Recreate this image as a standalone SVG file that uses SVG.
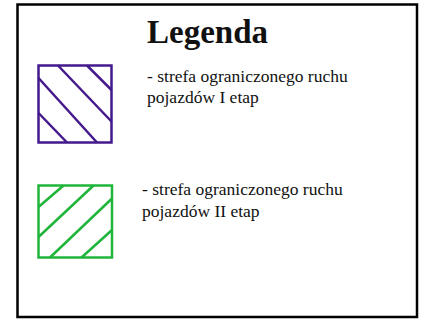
<svg xmlns="http://www.w3.org/2000/svg" width="427" height="320" viewBox="0 0 427 320">
<style>
.t{font-family:"Liberation Serif","Times New Roman",serif;fill:#111}
.title{font-size:33px;font-weight:bold}
.lbl{font-size:17.5px}
.p{stroke:#44198c;fill:none;stroke-width:2.5}
.g{stroke:#1fb53a;fill:none;stroke-width:2.5}
</style>
<rect x="0" y="0" width="427" height="320" fill="#fff"/>
<rect x="17.5" y="4.5" width="399.5" height="312.5" fill="none" stroke="#000" stroke-width="2.5"/>
<text class="t title" x="147" y="43">Legenda</text>
<g id="legend-1">
<rect class="p" x="38.5" y="65.5" width="73" height="77"/>
<line class="p" x1="58" y1="65.5" x2="111.5" y2="121.5"/>
<line class="p" x1="87" y1="65.5" x2="111.5" y2="90"/>
<line class="p" x1="38.5" y1="78" x2="97" y2="142.5"/>
<line class="p" x1="38.5" y1="113" x2="67" y2="142.5"/>
<text class="t lbl" x="147" y="82">- strefa ograniczonego ruchu</text>
<text class="t lbl" x="147" y="103">pojazdów I etap</text>
</g>
<g id="legend-2">
<rect class="g" x="38.5" y="185.5" width="73.5" height="72"/>
<line class="g" x1="38.5" y1="207" x2="63.5" y2="185.5"/>
<line class="g" x1="38.5" y1="237" x2="93.5" y2="185.5"/>
<line class="g" x1="50" y1="257.5" x2="112" y2="198.5"/>
<line class="g" x1="81.5" y1="257.5" x2="112" y2="230"/>
<text class="t lbl" x="142" y="195">- strefa ograniczonego ruchu</text>
<text class="t lbl" x="142" y="217">pojazdów II etap</text>
</g>
<g id="connectors"/>
</svg>
